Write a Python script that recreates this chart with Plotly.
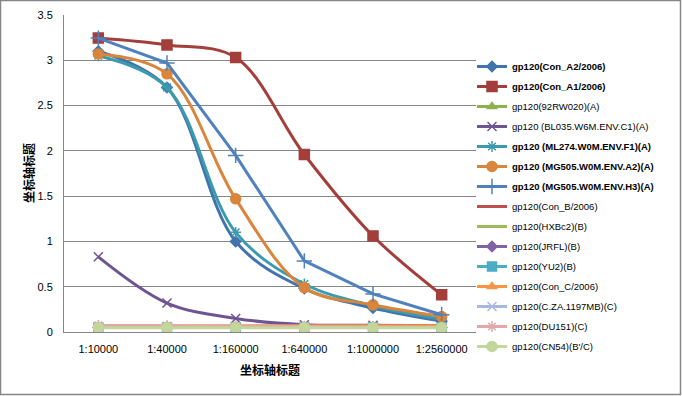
import plotly.graph_objects as go

categories = ["1:10000", "1:40000", "1:160000", "1:640000", "1:1000000", "1:2560000"]

names = [
    "<b>gp120(Con_A2/2006)</b>",
    "<b>gp120(Con_A1/2006)</b>",
    "gp120(92RW020)(A)",
    "gp120 (BL035.W6M.ENV.C1)(A)",
    "<b>gp120 (ML274.W0M.ENV.F1)(A)</b>",
    "<b>gp120 (MG505.W0M.ENV.A2)(A)</b>",
    "<b>gp120 (MG505.W0M.ENV.H3)(A)</b>",
    "gp120(Con_B/2006)",
    "gp120(HXBc2)(B)",
    "gp120(JRFL)(B)",
    "gp120(YU2)(B)",
    "gp120(Con_C/2006)",
    "gp120(C.ZA.1197MB)(C)",
    "gp120(DU151)(C)",
    "gp120(CN54)(B'/C)",
]

con_a2 = [3.10, 2.70, 1.00, 0.48, 0.265, 0.12]
con_a1 = [3.245, 3.17, 3.03, 1.96, 1.06, 0.41]
rw020 = [0.05, 0.05, 0.05, 0.05, 0.05, 0.05]
bl035 = [0.83, 0.32, 0.15, 0.08, 0.075, 0.07]
ml274 = [3.05, 2.70, 1.10, 0.53, 0.29, 0.14]
mg505_a2 = [3.07, 2.85, 1.47, 0.49, 0.30, 0.17]
mg505_h3 = [3.245, 2.97, 1.95, 0.785, 0.42, 0.19]
con_b = [0.06, 0.06, 0.06, 0.06, 0.06, 0.06]
hxbc2 = [0.05, 0.05, 0.05, 0.05, 0.05, 0.05]
jrfl = [0.05, 0.05, 0.05, 0.05, 0.05, 0.05]
yu2 = [0.05, 0.05, 0.05, 0.05, 0.05, 0.05]
con_c = [0.068, 0.068, 0.068, 0.068, 0.068, 0.068]
cza = [0.05, 0.05, 0.05, 0.05, 0.05, 0.05]
du151 = [0.072, 0.07, 0.065, 0.06, 0.055, 0.05]
cn54 = [0.048, 0.048, 0.048, 0.048, 0.048, 0.048]

series = [con_a2, con_a1, rw020, bl035, ml274, mg505_a2, mg505_h3, con_b, hxbc2,
          jrfl, yu2, con_c, cza, du151, cn54]

colors = ["#4173AE", "#A33E3B", "#8FB04F", "#6E5592", "#3B9BAE", "#D9853B", "#4F81BD",
          "#C0504D", "#9BBB59", "#8064A2", "#4BACC6", "#F79646", "#A7B9E0", "#E0A9A9", "#C3D69B"]
symbols = ["diamond", "square", "triangle-up", "x-thin-open", "asterisk-open", "circle",
           "cross-thin-open", None, None, "diamond", "square", "triangle-up", "x-thin-open",
           "asterisk-open", "circle"]
sizes = [8, 10, 8, 9, 9, 10, 11, 0, 0, 8, 9, 8, 9, 9, 10]
shapes_line = ["spline", "spline", "spline", "spline", "spline", "spline", "linear",
               "spline", "spline", "spline", "spline", "spline", "spline", "spline", "spline"]

FONT = "Liberation Sans, Noto Sans CJK SC"
CJK = "Noto Sans CJK SC"

fig = go.Figure()
for i, (nm, vals) in enumerate(zip(names, series)):
    sym = symbols[i]
    mode = "lines+markers" if sym else "lines"
    marker = dict(color=colors[i], size=sizes[i], symbol=sym if sym else "circle",
                  line=dict(color=colors[i], width=1.5))
    fig.add_trace(go.Scatter(
        x=categories, y=vals, name=nm, mode=mode,
        line=dict(color=colors[i], width=3, shape=shapes_line[i], smoothing=1.0),
        marker=marker, legendgroup=f"g{i}",
    ))

W, H = 682, 396
ml, mr, mt, mb = 64, 206, 15, 64
pw, ph = W - ml - mr, H - mt - mb

def px_x(p):
    return (p - ml) / pw

def px_y(p):
    return (H - mb - p) / ph

fig.update_layout(
    width=W, height=H,
    margin=dict(l=ml, r=mr, t=mt, b=mb, autoexpand=False),
    paper_bgcolor="white", plot_bgcolor="white",
    font=dict(family=FONT, size=11, color="#000000"),
    showlegend=True,
    legend=dict(x=px_x(472), xanchor="left", y=px_y(52), yanchor="top",
                font=dict(size=9.5, family=FONT),
                tracegroupgap=1, traceorder="grouped", itemwidth=30,
                bgcolor="rgba(0,0,0,0)"),
    xaxis=dict(type="category", showgrid=False, showline=True, linecolor="#868686",
               linewidth=1, ticks="", tickfont=dict(size=11), automargin=False,
               range=[-0.5, 5.5], ticklabelstandoff=7),
    yaxis=dict(range=[0, 3.5], dtick=0.5, showgrid=True, gridcolor="#868686", gridwidth=1,
               showline=True, linecolor="#868686", linewidth=1, ticks="", automargin=False,
               tickfont=dict(size=11), zeroline=False, ticklabelstandoff=8),
    annotations=[
        dict(text="<b>坐标轴标题</b>", xref="paper", yref="paper",
             x=px_x(270), y=px_y(369), xanchor="center", yanchor="middle",
             showarrow=False, font=dict(size=12, family=CJK)),
        dict(text="<b>坐标轴标题</b>", xref="paper", yref="paper",
             x=px_x(28), y=px_y(173), xanchor="center", yanchor="middle",
             showarrow=False, textangle=-90, font=dict(size=12, family=CJK)),
    ],
    shapes=[dict(type="rect", xref="paper", yref="paper",
                 x0=px_x(0.5), x1=px_x(680.5), y0=px_y(394.5), y1=px_y(0.5),
                 line=dict(color="#868686", width=1.5), fillcolor="rgba(0,0,0,0)", layer="below")],
)

fig.write_html("out.html", config={"displayModeBar": False},
               post_script="document.body.style.margin='0px';document.body.style.overflow='hidden';")
